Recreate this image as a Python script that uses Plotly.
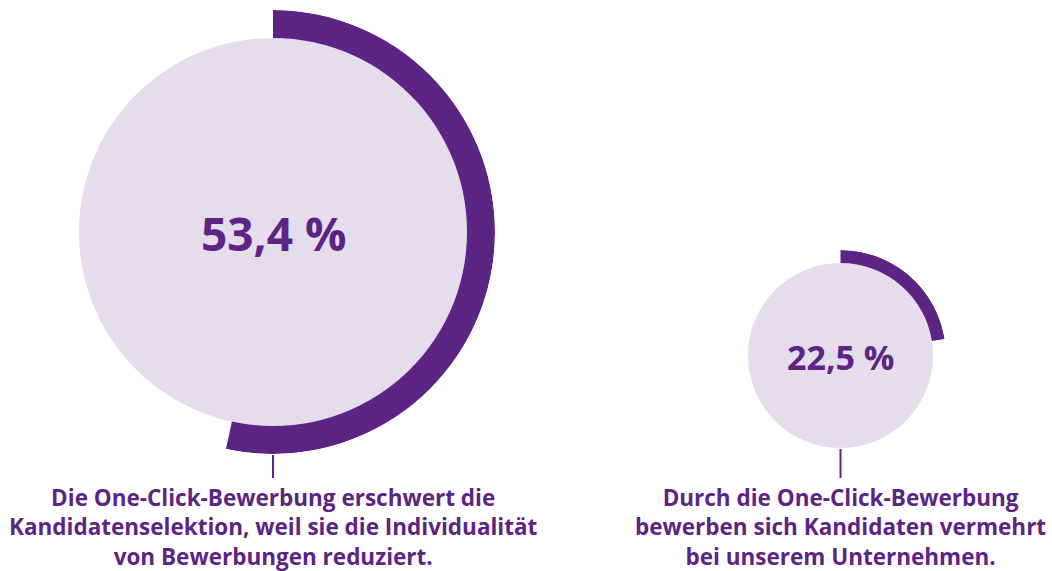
import plotly.graph_objects as go

# values in percent
values = [53.4, 22.5]
value_labels = ["53,4 %", "22,5 %"]
captions = [
    ["Die One-Click-Bewerbung erschwert die",
     "Kandidatenselektion, weil sie die Individualität",
     "von Bewerbungen reduziert."],
    ["Durch die One-Click-Bewerbung",
     "bewerben sich Kandidaten vermehrt",
     "bei unserem Unternehmen."],
]

PURPLE = "#5c2483"
LIGHT = "#e5ddeb"
FONT = "Open Sans"
W, H = 1052, 571

# layout of the two rings (pixels): center x, center y, disc radius, ring thickness
rings = [(273, 232, 194, 28), (840.5, 355.5, 92.5, 13)]
value_sizes = [46, 34]
line_top = [455, 449]
line_bottom = 478
caption_mid = 527

fig = go.Figure()

for i, (val, (cx, cy, rd, th)) in enumerate(zip(values, rings)):
    sub = "polar" if i == 0 else "polar2"
    # light disc
    fig.add_trace(go.Barpolar(
        r=[rd], theta=[180], width=[360],
        marker=dict(color=LIGHT, line=dict(width=0)),
        subplot=sub, hoverinfo="skip", showlegend=False,
    ))
    # value arc
    fig.add_trace(go.Barpolar(
        r=[th], base=[rd], theta=[val * 3.6 / 2], width=[val * 3.6],
        marker=dict(color=PURPLE, line=dict(width=0)),
        subplot=sub, hoverinfo="skip", showlegend=False,
    ))
    R = rd + th
    polar = dict(
        domain=dict(x=[(cx - R) / W, (cx + R) / W], y=[1 - (cy + R) / H, 1 - (cy - R) / H]),
        bgcolor="rgba(0,0,0,0)",
        radialaxis=dict(range=[0, R], visible=False, showgrid=False),
        angularaxis=dict(rotation=90, direction="clockwise", visible=False, showgrid=False),
        bargap=0,
    )
    fig.update_layout({sub: polar})

    fig.add_annotation(
        x=cx / W, y=1 - (cy + 1) / H, xref="paper", yref="paper",
        text="<b>%s</b>" % value_labels[i], showarrow=False,
        font=dict(family=FONT, size=value_sizes[i], color=PURPLE),
        xanchor="center", yanchor="middle",
    )
    # connector line
    fig.add_shape(
        type="line", xref="paper", yref="paper",
        x0=cx / W, x1=cx / W, y0=1 - line_top[i] / H, y1=1 - line_bottom / H,
        line=dict(color=PURPLE, width=2),
    )
    fig.add_annotation(
        x=cx / W, y=1 - caption_mid / H, xref="paper", yref="paper",
        text="<br>".join("<b>%s</b>" % s for s in captions[i]), showarrow=False,
        font=dict(family=FONT, size=22.5, color=PURPLE),
        xanchor="center", yanchor="middle", align="center", borderpad=0,
    )

fig.update_layout(
    width=W, height=H,
    margin=dict(l=0, r=0, t=0, b=0),
    paper_bgcolor="white", plot_bgcolor="white",
    showlegend=False,
)

fig.write_html("out.html", config={"displayModeBar": False},
               post_script="document.body.style.margin='0';")
